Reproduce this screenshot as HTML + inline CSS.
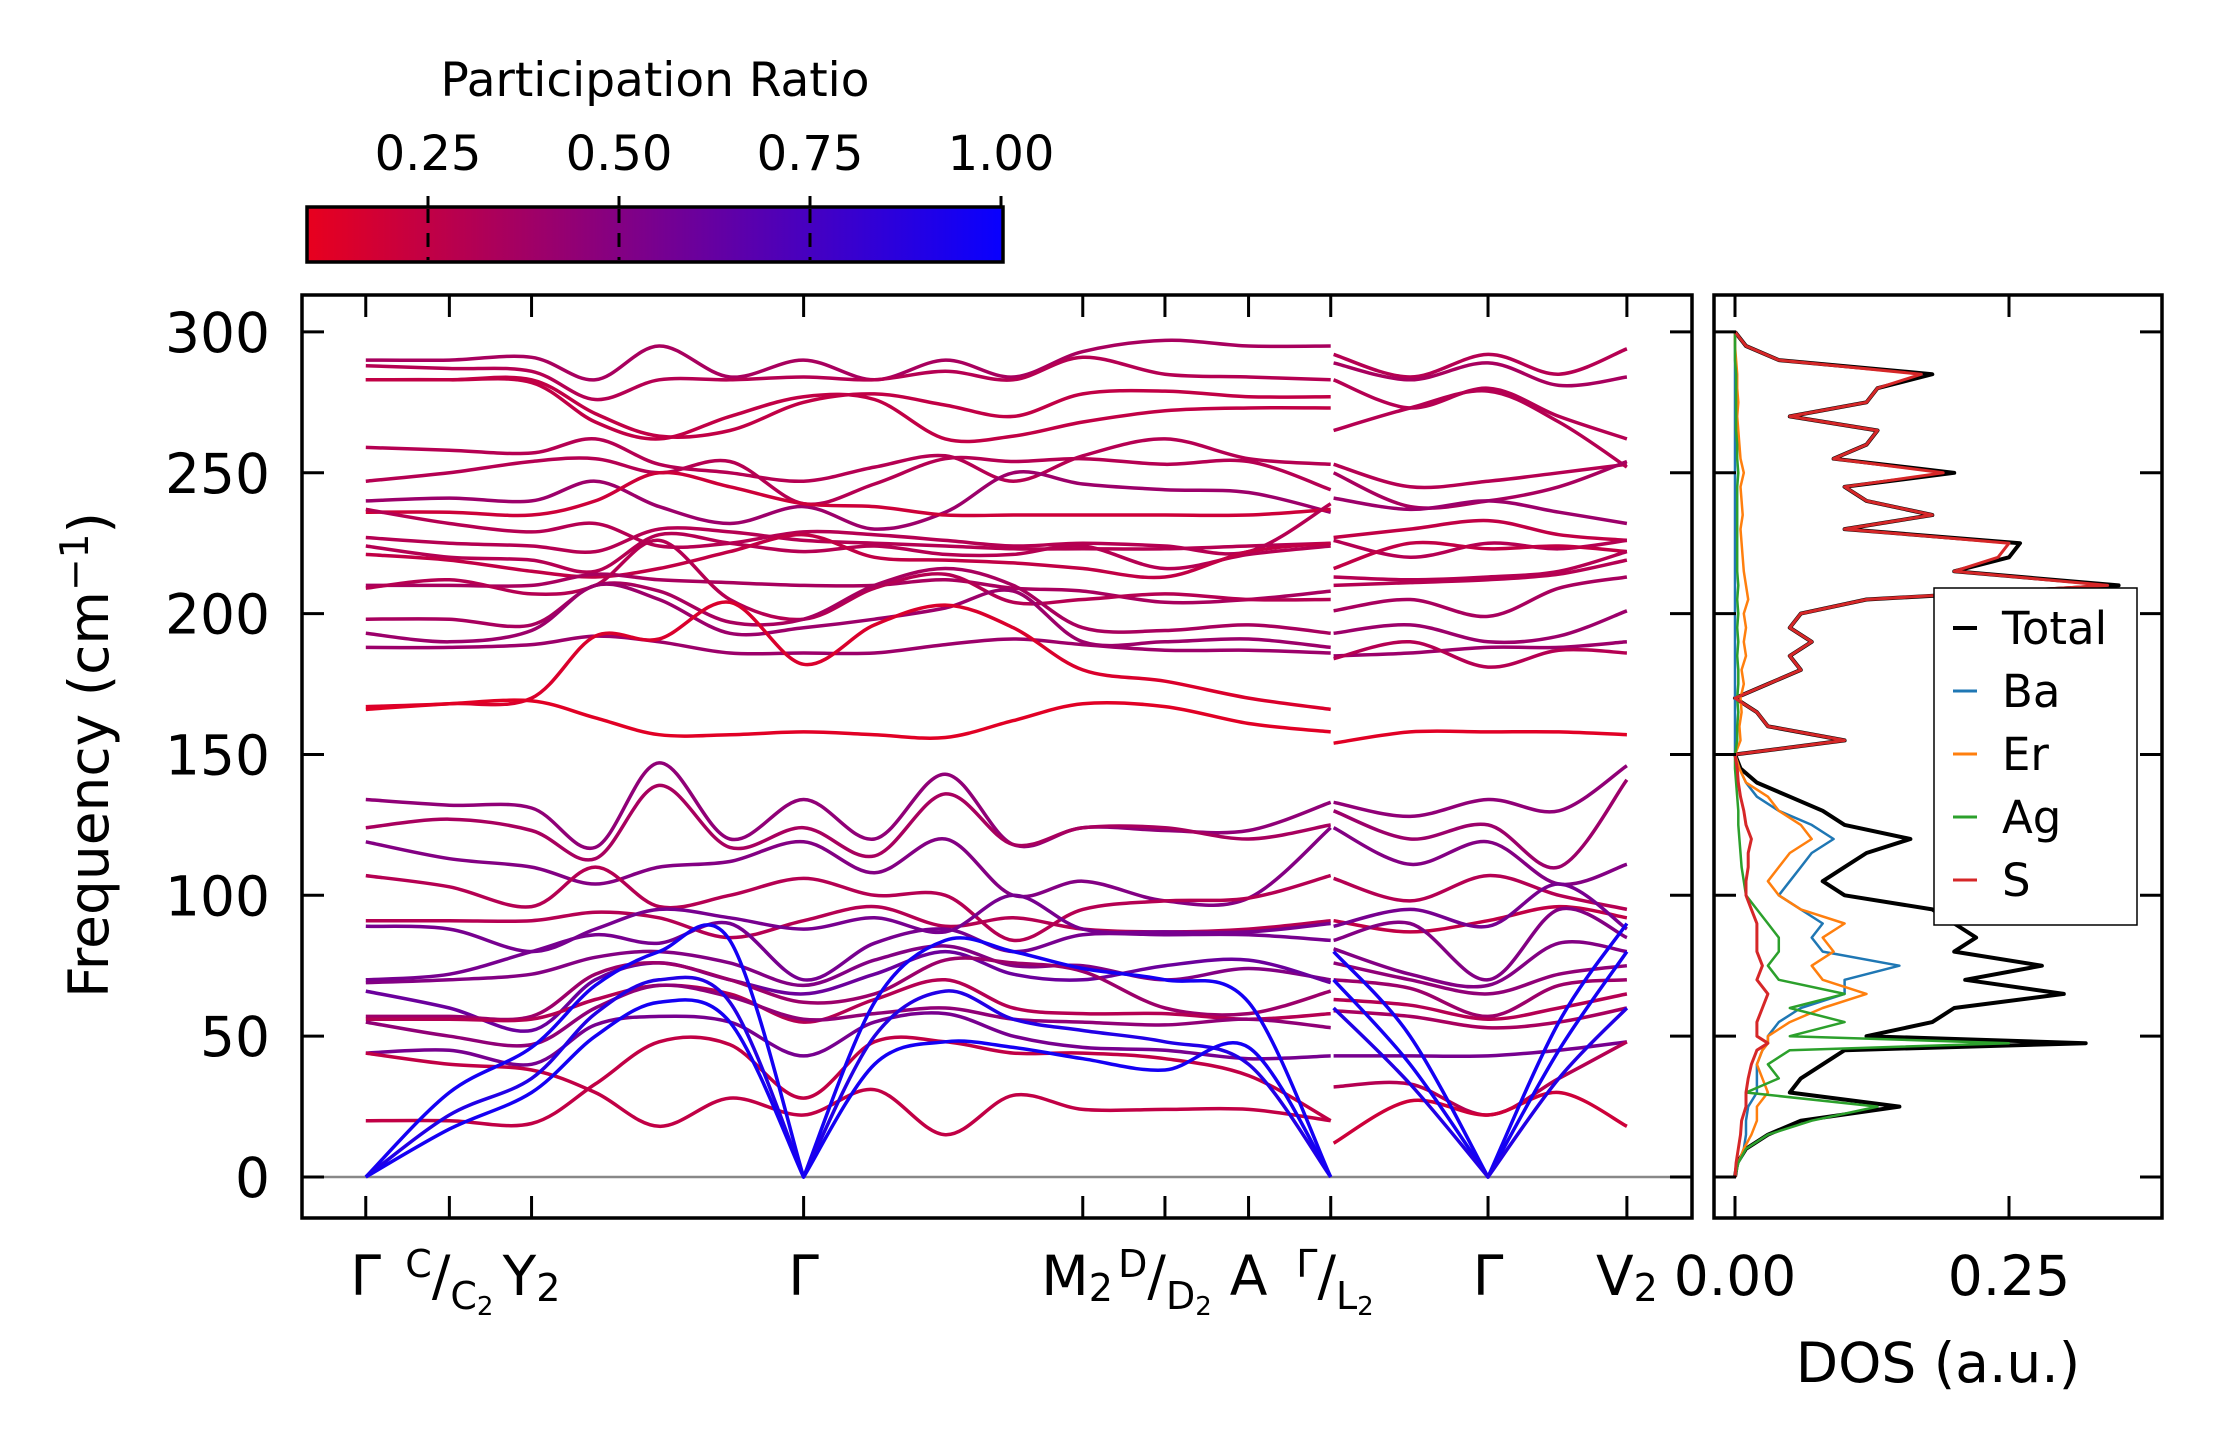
<!DOCTYPE html>
<html><head><meta charset="utf-8">
<style>
html,body{margin:0;padding:0;background:#fff;}
svg{display:block;font-family:"DejaVu Sans","Liberation Sans",sans-serif;}
</style></head>
<body>
<svg id="fig" width="2222" height="1455" viewBox="0 0 2222 1455" xmlns="http://www.w3.org/2000/svg">
<defs>
<linearGradient id="cbgrad" x1="0" x2="1" y1="0" y2="0">
<stop offset="0" stop-color="rgb(232,0,30)"/>
<stop offset="1" stop-color="rgb(8,0,255)"/>
</linearGradient>
<clipPath id="mainclip"><rect x="302" y="295" width="1390" height="923"/></clipPath>
<clipPath id="dosclip"><rect x="1714" y="295" width="448" height="923"/></clipPath>
</defs>
<g id="colorbar">
<text x="655" y="96" font-size="47" text-anchor="middle">Participation Ratio</text>
<rect x="307" y="207" width="696" height="55" fill="url(#cbgrad)" stroke="#000" stroke-width="3.5"/>
<g id="cbticks"></g>
</g>
<g id="main">
<line x1="302" x2="1692" y1="1177" y2="1177" stroke="#888" stroke-width="2.5"/>
<g id="bands" clip-path="url(#mainclip)"></g>
<rect x="302" y="295" width="1390" height="923" fill="none" stroke="#000" stroke-width="3.5"/>
<g id="mainticks"></g>
<text transform="translate(108,755) rotate(-90)" font-size="55" text-anchor="middle">Frequency (cm<tspan dy="-20" font-size="39">−1</tspan><tspan dy="20">)</tspan></text>
</g>
<g id="dos">
<g id="doslines" clip-path="url(#dosclip)"></g>
<rect x="1714" y="295" width="448" height="923" fill="none" stroke="#000" stroke-width="3.5"/>
<g id="dosticks"></g>
<text x="1938" y="1382" font-size="55" text-anchor="middle">DOS (a.u.)</text>
<g id="legend">
<rect x="1934" y="588" width="203" height="337" fill="#fff" stroke="#000" stroke-width="1.5"/>
</g>
</g>
</svg>
<script>
// ---------- data ----------
const kA = [258,317,375,420,465,515,567,617,667,715,764,822,881,939];
const kB = [941,995,1050,1100,1148];
const bandsA = [
[290,290,291,283,295,284,290,283,290,284,293,297,295,295],
[288,287,286,276,283,283,284,283,286,283,291,285,284,283],
[283,283,283,271,263,265,275,278,274,270,278,279,277,277],
[283,283,282,268,262,270,277,276,262,263,268,272,273,273],
[259,258,257,262,253,250,247,252,256,247,256,262,255,253],
[247,250,254,255,250,254,239,246,255,254,255,253,254,244],
[240,241,240,247,238,232,238,230,236,250,246,244,243,236],
[236,236,235,240,250,245,239,238,235,235,235,235,235,237],
[237,232,229,232,224,225,229,228,226,224,225,224,222,239],
[227,225,224,222,230,229,226,225,224,223,223,223,224,225],
[224,220,219,215,228,225,222,224,221,221,224,216,221,224],
[221,219,215,213,216,222,228,220,219,218,216,213,222,225],
[210,210,210,214,212,211,210,210,212,209,208,204,205,208],
[209,212,207,210,226,205,198,209,214,204,205,207,205,205],
[198,198,196,210,208,197,198,210,216,210,195,194,196,193],
[193,190,194,210,205,193,195,198,202,208,190,190,191,188],
[188,188,189,192,190,186,186,186,189,191,189,187,187,186],
[167,168,170,192,191,204,182,196,203,195,180,176,170,166],
[166,168,169,163,157,157,158,157,156,162,168,167,161,158],
[134,132,131,117,147,120,134,120,143,118,124,123,123,133],
[124,127,123,113,139,117,124,114,136,118,124,124,120,125],
[119,113,110,104,110,112,119,108,120,100,105,98,99,124],
[107,103,96,110,96,100,106,100,100,84,95,98,99,107],
[91,91,91,94,92,85,91,96,89,92,88,87,88,91],
[89,88,80,88,95,92,88,92,87,100,88,87,87,90],
[70,72,80,86,83,90,70,83,88,80,86,86,86,84],
[69,70,72,78,80,76,68,77,82,75,75,70,74,70],
[66,60,52,70,76,70,65,72,80,72,70,75,77,69],
[57,57,57,72,76,70,62,65,77,76,73,60,58,66],
[56,56,56,63,68,65,55,63,70,60,58,58,56,58],
[55,50,47,60,68,64,56,58,60,56,55,54,56,53],
[44,45,40,54,57,55,43,55,58,50,46,45,42,43],
[20,20,19,33,48,47,28,48,48,44,44,42,36,20],
[44,40,38,30,18,28,22,31,15,29,24,24,24,20],
[0,30,46,68,80,84,0,62,84,80,74,70,62,0],
[0,22,35,58,70,62,0,50,66,56,52,48,40,0],
[0,17,30,50,62,55,0,40,48,46,42,38,46,0]
];
const prA = [0.35,0.3,0.25,0.25,0.3,0.3,0.4,0.2,0.3,0.3,0.3,0.25,0.35,0.3,0.35,0.4,0.4,0.15,0.12,0.45,0.35,0.5,0.3,0.3,0.55,0.55,0.5,0.6,0.4,0.3,0.45,0.55,0.25,0.25,0.95,0.9,0.95];
const bandsB = [
[292,284,292,285,294],[289,283,289,281,284],[283,273,280,270,262],[265,273,279,268,252],
[253,245,247,250,253],[250,238,240,245,254],[241,237,240,236,232],[227,230,233,228,226],
[226,220,225,223,226],[216,225,223,224,222],[213,212,213,215,222],[210,211,212,214,219],
[201,205,199,209,213],[193,196,190,192,201],[185,186,188,188,190],[184,190,181,187,186],
[154,158,158,158,157],
[133,128,134,130,146],[130,120,125,110,141],[124,111,119,104,111],[106,98,107,100,95],
[91,87,91,96,92],[89,95,89,104,88],[84,90,70,95,85],[81,72,68,83,80],[76,70,65,72,75],
[70,67,57,68,70],[63,61,56,60,65],[59,57,53,55,60],[43,43,43,45,48],[32,33,22,35,48],
[12,27,22,30,18],[80,50,0,55,90],[70,40,0,45,80],[60,33,0,35,60]
];
const prB = [0.3,0.35,0.3,0.3,0.3,0.35,0.4,0.25,0.3,0.25,0.3,0.3,0.35,0.4,0.4,0.3,0.12,0.45,0.4,0.5,0.3,0.25,0.55,0.5,0.5,0.45,0.4,0.3,0.35,0.55,0.3,0.2,0.95,0.95,0.9];
const kTicks = [258,317,375,567,764,822,881,939,1050,1148];
const yTicks = [0,50,100,150,200,250,300];
const cbTicks = [0.25,0.5,0.75,1.0];
const dosFreq = [0,5,10,15,20,25,30,35,40,45,47.5,50,55,60,65,70,75,80,85,90,95,100,105,110,115,120,125,130,135,140,145,150,155,160,165,170,175,180,185,190,195,200,205,210,215,220,225,230,235,240,245,250,255,260,265,270,275,280,285,290,295,300];
const dosTotal = [0,0.002,0.01,0.03,0.06,0.15,0.05,0.06,0.08,0.1,0.32,0.12,0.18,0.2,0.3,0.21,0.28,0.2,0.22,0.2,0.18,0.1,0.08,0.1,0.12,0.16,0.1,0.08,0.05,0.02,0.005,0,0.1,0.03,0.02,0.0,0.03,0.06,0.05,0.07,0.05,0.06,0.12,0.35,0.2,0.25,0.26,0.1,0.18,0.12,0.1,0.2,0.09,0.12,0.13,0.05,0.12,0.13,0.18,0.04,0.01,0];
const dosBa = [0,0.003,0.008,0.01,0.01,0.012,0.02,0.02,0.02,0.025,0.03,0.03,0.04,0.06,0.1,0.1,0.15,0.08,0.07,0.08,0.06,0.04,0.05,0.06,0.07,0.09,0.07,0.04,0.02,0.01,0.004,0,0,0,0,0,0,0,0,0,0,0,0,0,0,0,0,0,0,0,0,0,0,0,0,0,0,0,0,0,0,0];
const dosEr = [0,0.003,0.008,0.015,0.02,0.02,0.03,0.025,0.02,0.025,0.03,0.03,0.05,0.08,0.12,0.08,0.07,0.09,0.08,0.1,0.06,0.04,0.03,0.04,0.05,0.07,0.06,0.04,0.03,0.01,0.004,0,0.005,0.004,0.006,0.005,0.008,0.006,0.01,0.008,0.01,0.008,0.012,0.01,0.008,0.007,0.006,0.005,0.007,0.006,0.005,0.008,0.005,0.004,0.003,0.002,0.003,0.002,0.002,0.001,0,0];
const dosAg = [0,0.003,0.01,0.03,0.07,0.13,0.01,0.04,0.03,0.05,0.25,0.05,0.1,0.05,0.1,0.04,0.03,0.04,0.04,0.03,0.02,0.01,0.008,0.006,0.005,0.004,0.003,0.003,0.002,0.001,0,0,0.002,0.002,0.003,0.002,0.003,0.003,0.002,0.003,0.002,0.003,0.002,0.003,0.002,0.002,0.002,0.002,0.002,0.002,0.002,0.003,0.002,0.002,0.001,0.001,0.001,0.001,0.001,0,0,0];
const dosS = [0,0.001,0.003,0.005,0.006,0.01,0.01,0.012,0.015,0.02,0.03,0.02,0.02,0.025,0.03,0.02,0.025,0.02,0.02,0.02,0.015,0.01,0.01,0.012,0.012,0.015,0.01,0.008,0.005,0.003,0.002,0,0.1,0.03,0.02,0.0,0.03,0.06,0.05,0.07,0.05,0.06,0.12,0.34,0.2,0.24,0.25,0.1,0.18,0.12,0.1,0.19,0.09,0.12,0.13,0.05,0.12,0.13,0.17,0.04,0.01,0];
const legendNames = ["Total","Ba","Er","Ag","S"];
const legendColors = ["#000000","#1f77b4","#ff7f0e","#2ca02c","#d62728"];

// ---------- scales ----------
const NS = "http://www.w3.org/2000/svg";
function xK(k){ return 302 + (k-213)*1.417; }
function yF(f){ return 1177 - f*2.817; }
function xD(d){ return 1735 + d*1096; }
function xCB(p){ return 428 + (p-0.25)*764; }
function prColor(p){
  let t = (p-0.092)/0.908; t = Math.max(0,Math.min(1,t));
  const r = Math.round(232+(8-232)*t), b = Math.round(30+(255-30)*t);
  return "rgb("+r+",0,"+b+")";
}
function mk(tag, attrs, parent){
  const e = document.createElementNS(NS, tag);
  for (const a in attrs) e.setAttribute(a, attrs[a]);
  parent.appendChild(e); return e;
}
function smoothPath(pts, corner){
  let d = "M"+pts[0][0].toFixed(1)+","+pts[0][1].toFixed(1);
  const n = pts.length;
  for (let i=0;i<n-1;i++){
    let p0 = pts[Math.max(0,i-1)], p1 = pts[i], p2 = pts[i+1], p3 = pts[Math.min(n-1,i+2)];
    if (corner[i]) p0 = p1;
    if (corner[i+1]) p3 = p2;
    const c1x = p1[0]+(p2[0]-p0[0])/6, c1y = p1[1]+(p2[1]-p0[1])/6;
    const c2x = p2[0]-(p3[0]-p1[0])/6, c2y = p2[1]-(p3[1]-p1[1])/6;
    d += " C"+c1x.toFixed(1)+","+c1y.toFixed(1)+" "+c2x.toFixed(1)+","+c2y.toFixed(1)+" "+p2[0].toFixed(1)+","+p2[1].toFixed(1);
  }
  return d;
}

// ---------- bands ----------
const gB = document.getElementById("bands");
function drawBands(ks, bands, prs){
  bands.forEach((b,i)=>{
    const pts = b.map((f,j)=>[xK(ks[j]), yF(f)]);
    const corner = b.map(f=>f===0);
    const p = mk("path", {d: smoothPath(pts, corner), fill:"none", stroke: prColor(prs[i]), "stroke-width":"3.5", "stroke-linejoin":"round"}, gB);
    
    
  });
}
drawBands(kA, bandsA, prA);
drawBands(kB, bandsB, prB);

// ---------- main ticks ----------
const gT = document.getElementById("mainticks");
kTicks.forEach((k)=>{
  const x = xK(k);
  const t1 = mk("line", {x1:x,x2:x,y1:1218,y2:1196,stroke:"#000","stroke-width":"3"}, gT);
  
  
  const t2 = mk("line", {x1:x,x2:x,y1:295,y2:317,stroke:"#000","stroke-width":"3"}, gT);
  
  
});
function kLabel(x){
  const t = mk("text", {x:x, y:1295, "font-size":"55", "text-anchor":"middle"}, gT);
  
  
  return t;
}
let t = kLabel(xK(258)); t.textContent = "Γ";
t = kLabel(xK(317)); t.innerHTML = '<tspan font-size="38" dy="-18">C</tspan><tspan dy="18">/</tspan><tspan font-size="38" dy="14">C</tspan><tspan font-size="26" dy="6">2</tspan>';
t = kLabel(xK(375)); t.innerHTML = 'Y<tspan font-size="38" dy="6">2</tspan>';
t = kLabel(xK(567)); t.textContent = "Γ";
t = kLabel(xK(760)); t.innerHTML = 'M<tspan font-size="38" dy="6">2</tspan>';
t = kLabel(xK(822)); t.innerHTML = '<tspan font-size="38" dy="-18">D</tspan><tspan dy="18">/</tspan><tspan font-size="38" dy="14">D</tspan><tspan font-size="26" dy="6">2</tspan>';
t = kLabel(xK(881)); t.textContent = "A";
t = kLabel(xK(942)); t.innerHTML = '<tspan font-size="38" dy="-18">Γ</tspan><tspan dy="18">/</tspan><tspan font-size="38" dy="14">L</tspan><tspan font-size="26" dy="6">2</tspan>';
t = kLabel(xK(1050)); t.textContent = "Γ";
t = kLabel(xK(1148)); t.innerHTML = 'V<tspan font-size="38" dy="6">2</tspan>';

yTicks.forEach(v=>{
  const y = yF(v);
  const a = mk("line", {x1:302,x2:324,y1:y,y2:y,stroke:"#000","stroke-width":"3"}, gT);
  
  
  const b = mk("line", {x1:1670,x2:1692,y1:y,y2:y,stroke:"#000","stroke-width":"3"}, gT);
  
  
  const l = mk("text", {x:270, y:y+20, "font-size":"55", "text-anchor":"end"}, gT);
  l.textContent = String(v);
  
  
});

// ---------- colorbar ticks ----------
const gC = document.getElementById("cbticks");
cbTicks.forEach(v=>{
  const x = xCB(v);
  if (v < 1) {
    const dl = mk("line", {x1:x,x2:x,y1:209,y2:260,stroke:"#000","stroke-width":"3","stroke-dasharray":"14,10"}, gC);
    
    
  }
  const tk = mk("line", {x1:x,x2:x,y1:207,y2:196,stroke:"#000","stroke-width":"3"}, gC);
  
  
  const l = mk("text", {x:x, y:170, "font-size":"48", "text-anchor":"middle"}, gC);
  l.textContent = v.toFixed(2);
  
  
});

// ---------- DOS ----------
const gD = document.getElementById("doslines");
const series = [dosBa, dosEr, dosAg, dosS, dosTotal];
const seriesNames = ["dos-ba","dos-er","dos-ag","dos-s","dos-total"];
const seriesColors = ["#1f77b4","#ff7f0e","#2ca02c","#d62728","#000000"];
const seriesWidths = [2.5,2.5,2.5,3,4];
[4,0,1,2,3].forEach(si=>{
  const arr = series[si];
  const d = arr.map((v,j)=>(j?"L":"M")+xD(v).toFixed(1)+","+yF(dosFreq[j]).toFixed(1)).join(" ");
  const p = mk("path", {d:d, fill:"none", stroke:seriesColors[si], "stroke-width":seriesWidths[si], "stroke-linejoin":"round"}, gD);
  
  
});
const gDT = document.getElementById("dosticks");
[0,0.25].forEach(v=>{
  const x = xD(v);
  const a = mk("line", {x1:x,x2:x,y1:1218,y2:1196,stroke:"#000","stroke-width":"3"}, gDT);
  
  
  const b = mk("line", {x1:x,x2:x,y1:295,y2:317,stroke:"#000","stroke-width":"3"}, gDT);
  
  
  const l = mk("text", {x:x, y:1295, "font-size":"55", "text-anchor":"middle"}, gDT);
  l.textContent = v.toFixed(2);
  
  
});
yTicks.forEach(v=>{
  const y = yF(v);
  const a = mk("line", {x1:1714,x2:1736,y1:y,y2:y,stroke:"#000","stroke-width":"3"}, gDT);
  
  
  const b = mk("line", {x1:2140,x2:2162,y1:y,y2:y,stroke:"#000","stroke-width":"3"}, gDT);
  
  
});

// ---------- legend ----------
const gL = document.getElementById("legend");
legendNames.forEach((n,i)=>{
  const y = 628 + i*63;
  const ln = mk("line", {x1:1953,x2:1977,y1:y,y2:y,stroke:legendColors[i],"stroke-width":i===0?"4":"3"}, gL);
  
  
  const tx = mk("text", {x:2002, y:y+16, "font-size":"45"}, gL);
  tx.textContent = n;
  
  
});
</script>
</body></html>
